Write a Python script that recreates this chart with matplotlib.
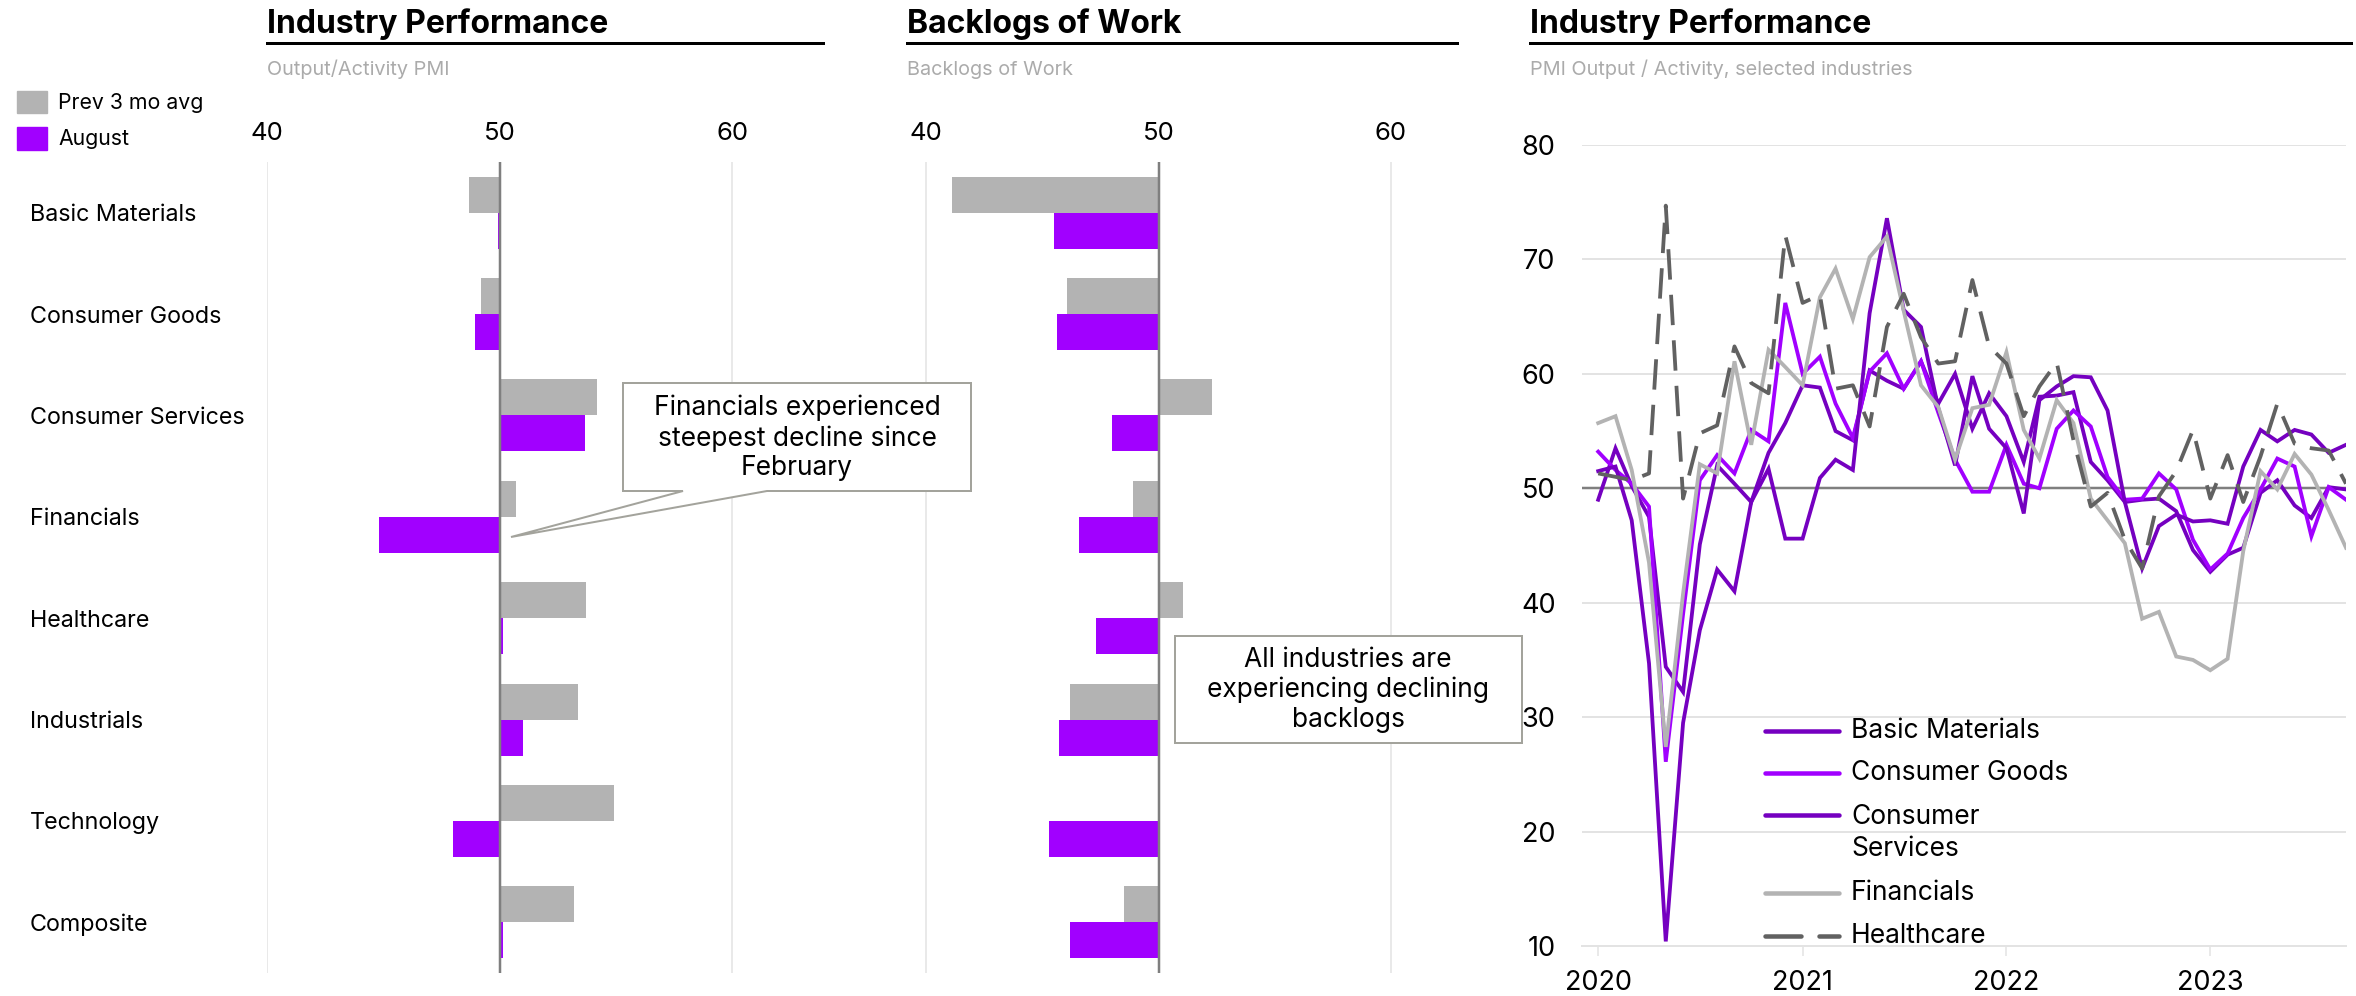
import matplotlib
matplotlib.use("Agg")
import matplotlib.pyplot as plt
from matplotlib.patches import Rectangle, Polygon
from matplotlib.lines import Line2D
import pandas as pd

plt.rcParams['font.family'] = ['Inter', 'DejaVu Sans']

# ---------------- data ----------------
categories = ["Basic Materials", "Consumer Goods", "Consumer Services", "Financials",
              "Healthcare", "Industrials", "Technology", "Composite"]
perf_prev = [48.7, 49.2, 54.2, 50.7, 53.7, 53.35, 54.9, 53.2]
perf_aug = [49.95, 48.95, 53.65, 44.8, 50.15, 51.0, 48.0, 50.15]
backlog_prev = [41.1, 46.05, 52.3, 48.9, 51.07, 46.2, 50.0, 48.5]
backlog_aug = [45.5, 45.63, 47.98, 46.6, 47.3, 45.7, 45.27, 46.2]

months = pd.date_range("2020-01-01", periods=45, freq="MS")
basic_materials = [49.0, 53.5, 50.2, 47.5, 34.4, 32.2, 45.1, 52.0, 50.4, 48.8,
                   53.1, 55.7, 59.0, 58.8, 55.0, 54.2, 60.3, 59.4, 58.7, 61.1,
                   57.4, 60.0, 55.2, 58.3, 56.3, 52.3, 58.0, 58.1, 58.4, 52.3,
                   50.7, 48.8, 49.0, 49.1, 48.0, 44.6, 42.7, 44.2, 44.8, 49.6,
                   50.7, 48.5, 47.4, 50.1, 49.9]
consumer_goods = [53.2, 51.6, 50.4, 48.4, 26.1, 39.0, 50.7, 52.9, 51.3, 55.1,
                  54.1, 66.2, 60.0, 61.5, 57.4, 54.4, 60.2, 61.8, 58.7, 61.1,
                  56.6, 52.5, 49.7, 49.7, 53.8, 50.4, 50.0, 55.2, 56.8, 55.4,
                  51.0, 49.0, 49.1, 51.3, 49.9, 45.5, 42.9, 44.3, 47.4, 49.9,
                  52.6, 51.9, 45.8, 50.1, 49.0]
consumer_services = [51.5, 51.9, 47.2, 34.7, 10.4, 29.5, 37.6, 42.9, 41.0, 48.8,
                     51.7, 45.6, 45.6, 50.9, 52.5, 51.6, 65.3, 73.6, 65.6, 64.1,
                     57.0, 52.0, 59.8, 55.2, 53.5, 47.8, 57.7, 58.9, 59.8, 59.7,
                     56.8, 48.8, 43.0, 46.7, 47.7, 47.1, 47.2, 46.9, 51.9, 55.1,
                     54.1, 55.1, 54.7, 53.1, 53.8]
financials = [55.7, 56.3, 51.6, 43.5, 27.4, 40.8, 52.1, 51.3, 61.1, 53.8,
              62.1, 60.6, 59.0, 66.7, 69.2, 64.8, 70.2, 72.0, 65.5, 59.0,
              57.1, 52.5, 57.0, 57.3, 61.9, 55.1, 52.6, 57.7, 55.7, 49.1,
              47.2, 45.2, 38.6, 39.2, 35.3, 35.0, 34.1, 35.1, 44.5, 51.5,
              49.9, 53.0, 51.2, 48.1, 44.8]
healthcare = [51.3, 51.0, 50.7, 51.3, 74.7, 49.1, 54.8, 55.5, 62.4, 59.2,
              58.3, 72.1, 66.2, 66.9, 58.7, 59.0, 55.4, 64.1, 67.0, 63.2,
              60.9, 61.1, 68.2, 62.4, 60.9, 56.3, 58.9, 61.0, 54.2, 48.4,
              49.6, 45.5, 43.0, 49.3, 51.5, 55.1, 49.1, 52.9, 48.8, 52.8,
              57.4, 53.9, 53.5, 53.3, 50.4]
year_ticks = ["2020", "2021", "2022", "2023"]

# ---------------- style ----------------
W, H = 2356, 996
DPI = 100
PX = 72.0 / DPI  # points per pixel
GRAY_BAR = "#B3B3B3"
PURPLE = "#A100FF"
DARK_PURPLE = "#7500C0"
GRID = "#E3E3E3"
MID = "#7F7F7F"

fig = plt.figure(figsize=(W / DPI, H / DPI), dpi=DPI)


def rect(x0, y0, x1, y1):
    return [x0 / W, 1 - y1 / H, (x1 - x0) / W, (y1 - y0) / H]


def fx(x):
    return x / W


def fy(y):
    return 1 - y / H


def header(x0, x1, title, subtitle):
    fig.text(fx(x0), fy(33), title, fontsize=23, fontweight="bold",
             color="black", va="baseline", ha="left")
    fig.add_artist(Line2D([fx(x0), fx(x1)], [fy(43), fy(43)], color="black",
                          lw=3 * PX, transform=fig.transFigure))
    fig.text(fx(x0), fy(75), subtitle, fontsize=14.3, color="#ABABAB",
             va="baseline", ha="left")


def bar_panel(ax, prev, aug, xlim, show_labels):
    pos = list(range(len(categories)))
    h = 0.355
    ax.barh([p - h / 2 for p in pos], [v - 50 for v in prev], left=50, height=h,
            color=GRAY_BAR, zorder=2)
    ax.barh([p + h / 2 for p in pos], [v - 50 for v in aug], left=50, height=h,
            color=PURPLE, zorder=2)
    ax.set_xlim(*xlim)
    ax.set_ylim(len(categories) - 0.5, -0.5)
    for v in (40, 60):
        ax.axvline(v, color=GRID, lw=1.5 * PX, zorder=1)
    ax.axvline(50, color=MID, lw=2.5 * PX, zorder=3)
    ax.xaxis.tick_top()
    ax.set_xticks([40, 50, 60])
    ax.tick_params(axis="x", length=0, pad=12, labelsize=18.5, colors="black")
    for s in ax.spines.values():
        s.set_visible(False)
    if show_labels:
        ax.set_yticks(pos)
        ax.set_yticklabels(categories, fontsize=16.8)
        ax.tick_params(axis="y", length=0, pad=237 * PX)
        for t in ax.get_yticklabels():
            t.set_horizontalalignment("left")
    else:
        ax.set_yticks([])
    ax.set_facecolor("none")


# ---------------- left panel ----------------
ax1 = fig.add_axes(rect(267, 162, 823, 973))
bar_panel(ax1, perf_prev, perf_aug, (40, 63.9), True)
header(267, 823, "Industry Performance", "Output/Activity PMI")

# legend for bar panels
fig.add_artist(Rectangle((fx(17), fy(113)), 30 / W, 22 / H, color=GRAY_BAR,
                         transform=fig.transFigure))
fig.add_artist(Rectangle((fx(17), fy(150)), 30 / W, 23 / H, color=PURPLE,
                         transform=fig.transFigure))
fig.text(fx(58), fy(103), "Prev 3 mo avg", fontsize=15.3, va="center", ha="left")
fig.text(fx(58), fy(139), "August", fontsize=15.3, va="center", ha="left")

# ---------------- middle panel ----------------
ax2 = fig.add_axes(rect(907, 162, 1457, 973))
bar_panel(ax2, backlog_prev, backlog_aug, (39.18, 62.84), False)
header(907, 1457, "Backlogs of Work", "Backlogs of Work")

# ---------------- right panel ----------------
ax3 = fig.add_axes(rect(1582, 145, 2346, 946))
series = [("Basic Materials", basic_materials, DARK_PURPLE, "-"),
          ("Consumer Goods", consumer_goods, PURPLE, "-"),
          ("Consumer\nServices", consumer_services, DARK_PURPLE, "-"),
          ("Financials", financials, GRAY_BAR, "-"),
          ("Healthcare", healthcare, "#616161", (0, (8, 4)))]
for name, vals, col, ls in series:
    ax3.plot(months, vals, color=col, lw=3.8 * PX, ls=ls, zorder=3,
             solid_joinstyle="miter", dash_capstyle="butt")
ax3.set_ylim(10, 80)
ax3.set_xlim(pd.Timestamp("2019-12-03"), pd.Timestamp("2023-09-01"))
ax3.set_yticks(range(10, 81, 10))
for v in range(20, 81, 10):
    if v != 50:
        ax3.axhline(v, color=GRID, lw=2 * PX, zorder=1)
ax3.axhline(50, color=MID, lw=2.5 * PX, zorder=2)
for s in ("top", "right", "left"):
    ax3.spines[s].set_visible(False)
ax3.spines["bottom"].set_color(GRID)
ax3.spines["bottom"].set_linewidth(2 * PX)
year_dates = [pd.Timestamp(f"{y}-01-01") for y in year_ticks]
ax3.set_xticks(year_dates)
ax3.set_xticklabels(year_ticks)
ax3.tick_params(axis="x", length=7, width=1.5 * PX, color=GRID, labelsize=19.5,
                pad=10)
ax3.tick_params(axis="y", length=0, labelsize=19.5, pad=19)
ax3.set_facecolor("none")
header(1530, 2351, "Industry Performance",
       "PMI Output / Activity, selected industries")

# manual legend for the line chart
leg_rows = [731, 773, 815, 893, 936]
for (name, vals, col, ls), y in zip(series, leg_rows):
    fig.add_artist(Line2D([fx(1765), fx(1839)], [fy(y), fy(y)], color=col,
                          lw=4.5 * PX, ls=ls, transform=fig.transFigure,
                          dash_capstyle="round", solid_capstyle="round"))
    if "\n" in name:
        fig.text(fx(1851), fy(y - 11), name, fontsize=19, va="top", ha="left",
                 linespacing=1.3)
    else:
        fig.text(fx(1851), fy(y), name, fontsize=19, va="center", ha="left")

# ---------------- annotations ----------------
call_pts = [(623, 383), (971, 383), (971, 491), (767, 491), (511, 537),
            (683, 491), (623, 491)]
fig.add_artist(Polygon([(fx(x), fy(y)) for x, y in call_pts], closed=True,
                       facecolor="white", edgecolor="#A3A39C", lw=2 * PX,
                       transform=fig.transFigure, zorder=5))
fig.text(fx(797), fy(438), "Financials experienced\nsteepest decline since\nFebruary",
         fontsize=19, ha="center", va="center", linespacing=1.18, zorder=6)

fig.add_artist(Rectangle((fx(1175), fy(743)), (1522 - 1175) / W, (743 - 636) / H,
                         facecolor="white", edgecolor="#A3A39C", lw=2 * PX,
                         transform=fig.transFigure, zorder=5))
fig.text(fx(1348), fy(690), "All industries are\nexperiencing declining\nbacklogs",
         fontsize=19, ha="center", va="center", linespacing=1.18, zorder=6)

fig.savefig("out.png", dpi=DPI, facecolor="white")
